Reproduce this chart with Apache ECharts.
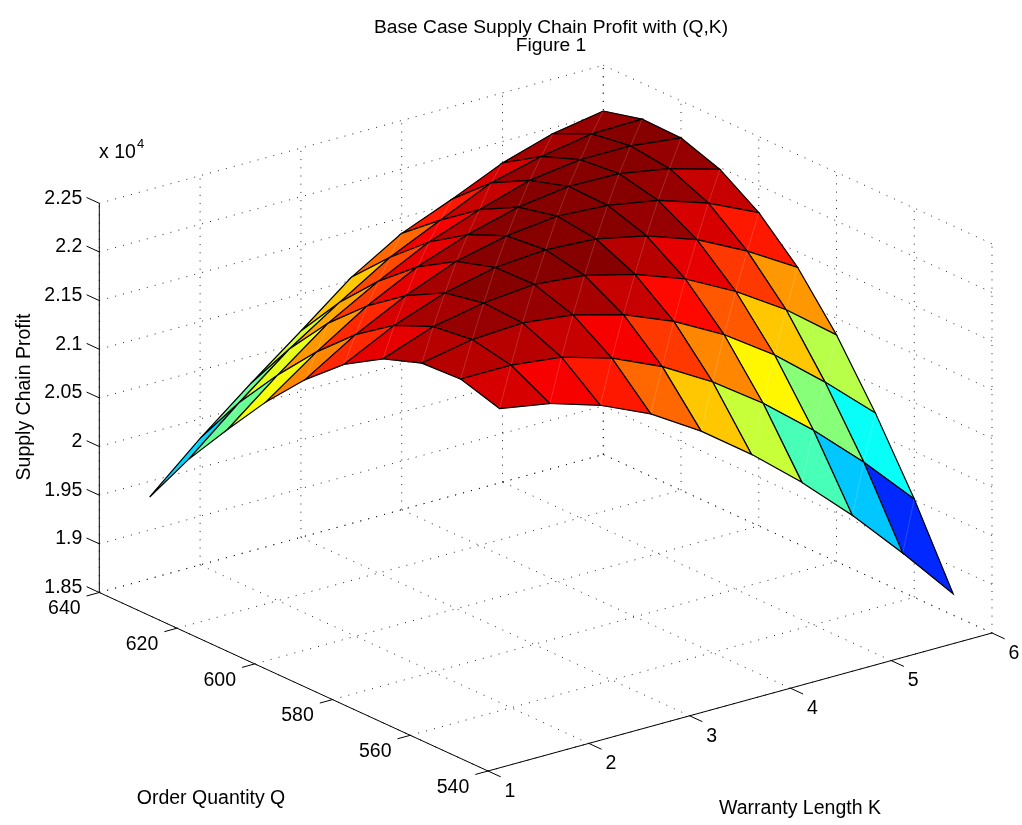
<!DOCTYPE html>
<html><head><meta charset="utf-8">
<style>html,body{margin:0;padding:0;background:#fff}#c{width:1022px;height:825px}</style>
<script src="https://cdn.jsdelivr.net/npm/echarts@6/dist/echarts.min.js"></script>
</head><body><div id="c"></div>
<script>
// ---- data ----
const warrantyK = [1.5,2,2.5,3,3.5,4,4.5,5,5.5,6];
const orderQ = [550,560,570,580,590,600,610,620,630,640];
const profitQ550 = [2.190,2.181,2.165,2.142,2.110,2.072,2.029,1.981,1.928,1.872];
const profitQ560 = [2.202,2.202,2.196,2.181,2.158,2.128,2.092,2.050,2.003,1.951];
const profitQ570 = [2.200,2.210,2.213,2.207,2.193,2.172,2.144,2.109,2.067,2.021];
const profitQ580 = [2.186,2.205,2.215,2.220,2.215,2.202,2.183,2.156,2.123,2.083];
const profitQ590 = [2.162,2.188,2.207,2.219,2.223,2.220,2.209,2.191,2.165,2.134];
const profitQ600 = [2.128,2.160,2.186,2.207,2.219,2.225,2.222,2.213,2.196,2.172];
const profitQ610 = [2.087,2.124,2.157,2.183,2.202,2.216,2.223,2.222,2.213,2.198];
const profitQ620 = [2.040,2.082,2.121,2.150,2.176,2.195,2.211,2.218,2.218,2.212];
const profitQ630 = [1.991,2.035,2.076,2.110,2.142,2.166,2.190,2.203,2.212,2.213];
const profitQ640 = [1.934,1.980,2.022,2.062,2.103,2.134,2.155,2.178,2.194,2.203];
const kTicks = [1,2,3,4,5,6];
const qTicks = [540,560,580,600,620,640];
const zTicks = [1.85,1.9,1.95,2,2.05,2.1,2.15,2.2,2.25];
const zTickLabels = ['1.85','1.9','1.95','2','2.05','2.1','2.15','2.2','2.25'];
const titleLines = ['Base Case Supply Chain Profit with (Q,K)','Figure 1'];
const xLabel = 'Warranty Length K';
const yLabel = 'Order Quantity Q';
const zLabel = 'Supply Chain Profit';
const exponentBase = 'x 10';
const exponentPower = '4';
const colorLimits = [1.872,2.219];

// ---- orthographic view of the (K,Q,Z) box ----
const FONT = '"Liberation Sans", Arial, sans-serif', FS = 19.5;
const profit = [profitQ550,profitQ560,profitQ570,profitQ580,profitQ590,profitQ600,profitQ610,profitQ620,profitQ630,profitQ640];
const kMin=1,kMax=6,qMin=540,qMax=640,zMin=1.85,zMax=2.25;
function P(K,Q,Z){
  return [488+(K-1)*100.8-(Q-540)*3.887, 771-(K-1)*27.6-(Q-540)*1.785-(Z-1.85)*973];
}
const [cMin,cMax]=colorLimits;
function jet(z){
  let idx=Math.max(0,Math.min(63,Math.floor((z-cMin)/(cMax-cMin)*64)));
  const x=(idx+.5)/64, c=v=>Math.round(255*Math.max(0,Math.min(1,v)));
  return `rgb(${c(1.5-Math.abs(4*x-3))},${c(1.5-Math.abs(4*x-2))},${c(1.5-Math.abs(4*x-1))})`;
}
// ---- derived mark tables ----
const gridSegs=[];
const seg=(a,b)=>gridSegs.push([...a,...b]);
kTicks.forEach(k=>{seg(P(k,qMin,zMin),P(k,qMax,zMin));seg(P(k,qMax,zMin),P(k,qMax,zMax));});
qTicks.forEach(q=>{seg(P(kMin,q,zMin),P(kMax,q,zMin));seg(P(kMax,q,zMin),P(kMax,q,zMax));});
zTicks.forEach(z=>{seg(P(kMin,qMax,z),P(kMax,qMax,z));seg(P(kMax,qMax,z),P(kMax,qMin,z));});

const axisSegs=[];
const aseg=(a,b)=>axisSegs.push([...a,...b]);
aseg(P(kMin,qMin,zMin),P(kMax,qMin,zMin));
aseg(P(kMin,qMin,zMin),P(kMin,qMax,zMin));
aseg(P(kMin,qMax,zMin),P(kMin,qMax,zMax));
kTicks.forEach(k=>aseg(P(k,qMin,zMin),P(k,qMin-3.27,zMin)));
qTicks.forEach(q=>aseg(P(kMin,q,zMin),P(kMin-.126,q,zMin)));
zTicks.forEach(z=>aseg(P(kMin,qMax,z),P(kMin,qMax+3.27,z)));

const faces=[];
for(let j=orderQ.length-2;j>=0;j--)for(let i=warrantyK.length-2;i>=0;i--){
  const v=(a,b)=>P(warrantyK[a],orderQ[b],profit[b][a]);
  faces.push([...v(i,j),...v(i+1,j),...v(i+1,j+1),...v(i,j+1),profit[j][i]]);
}
const texts=[];
const T=(x,y,s,align,rot,fs)=>texts.push([x,y,s,align||'center',rot||0,fs||FS]);
kTicks.forEach(k=>{const p=P(k,qMin,zMin);T(p[0]+22,p[1]+20.5,String(k));});
qTicks.forEach(q=>{const p=P(kMin,q,zMin);T(p[0]-35,p[1]+16.5,String(q));});
zTicks.forEach((z,n)=>{const p=P(kMin,qMax,z);T(p[0]-17,p[1]-5,zTickLabels[n],'right');});
T(551,28,titleLines[0],'center',0,19.2);T(551,46,titleLines[1],'center',0,19.2);
T(800,808.5,xLabel);T(211,798.5,yLabel);T(25,397,zLabel,'center',Math.PI/2);
T(99,153,exponentBase,'left');T(137,144,exponentPower,'left',0,13);

const chart=echarts.init(document.getElementById('c'),null,{renderer:'canvas',width:1022,height:825});
const line=(api,d,style)=>{const a=api.coord([d[0],d[1]]),b=api.coord([d[2],d[3]]);
  return {type:'line',shape:{x1:a[0],y1:a[1],x2:b[0],y2:b[1]},style};};
const arr=(api,n)=>Array.from({length:n},(_,i)=>api.value(i));
chart.setOption({
  animation:false,backgroundColor:'#fff',tooltip:{show:false},
  grid:{left:0,right:0,top:0,bottom:0},
  xAxis:{type:'value',min:0,max:1022,show:false},
  yAxis:{type:'value',min:0,max:825,inverse:true,show:false},
  series:[
   {type:'custom',silent:true,clip:false,data:gridSegs,
    encode:{x:[0,2],y:[1,3]},
    renderItem:(p,api)=>line(api,arr(api,4),{stroke:'#000',lineWidth:1,lineDash:[1,7.2],fill:null,opacity:.85})},
   {type:'custom',silent:true,clip:false,data:faces,z:3,
    encode:{x:[0,2,4,6],y:[1,3,5,7]},
    renderItem:(p,api)=>{
      const d=arr(api,9);
      const pts=[0,2,4,6].map(k=>api.coord([d[k],d[k+1]]));
      return {type:'group',children:[
        {type:'polygon',shape:{points:pts},style:{fill:jet(d[8]),stroke:jet(d[8]),lineWidth:.5}},
        {type:'line',shape:{x1:pts[0][0],y1:pts[0][1],x2:pts[2][0],y2:pts[2][1]},style:{stroke:'rgba(255,255,255,.16)',lineWidth:1,fill:null}},
        {type:'polygon',shape:{points:pts},style:{fill:null,stroke:'#000',lineWidth:1.2}}
      ]};
    }},
   {type:'custom',silent:true,clip:false,data:axisSegs,z:4,
    encode:{x:[0,2],y:[1,3]},
    renderItem:(p,api)=>line(api,arr(api,4),{stroke:'#000',lineWidth:1,fill:null})},
   {type:'custom',silent:true,clip:false,z:5,
    data:texts.map((t,n)=>[t[0],t[1],n]),
    encode:{x:0,y:1},
    renderItem:(p,api)=>{
      const t=texts[api.value(2)], c=api.coord([t[0],t[1]]);
      return {type:'text',x:c[0],y:c[1],rotation:t[4],originX:0,originY:0,
        style:{text:t[2],x:0,y:0,align:t[3],verticalAlign:'middle',fontFamily:FONT,fontSize:t[5],fill:'#000'}};
    }}
  ]
});
</script></body></html>
